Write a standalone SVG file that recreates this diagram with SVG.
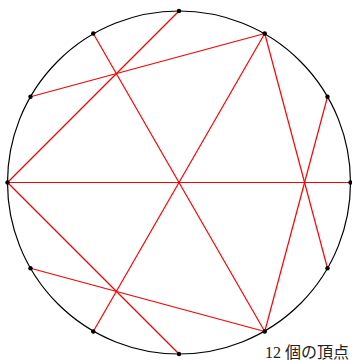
<svg xmlns="http://www.w3.org/2000/svg" width="352" height="360" viewBox="0 0 352 360">
<style>
.c{fill:none;stroke:#000;stroke-width:1.2}
.e{stroke:#ff0000;stroke-width:1.2;fill:none}
.v{fill:#000}
.t{font-family:"Liberation Serif","Noto Sans CJK JP",serif;font-size:16px;fill:#222}
</style>
<rect width="352" height="360" fill="#fff"/>
<g id="circle"><circle class="c" cx="179" cy="182.5" r="171.5"/></g>
<g id="connectors">
<line class="e" x1="7.5" y1="182.5" x2="350.5" y2="182.5"/>
<line class="e" x1="7.5" y1="182.5" x2="179" y2="11"/>
<line class="e" x1="30.5" y1="96.75" x2="264.75" y2="33.5"/>
<line class="e" x1="93.25" y1="33.5" x2="264.75" y2="331.5"/>
<line class="e" x1="264.75" y1="33.5" x2="93.25" y2="331.5"/>
<line class="e" x1="264.75" y1="33.5" x2="327.5" y2="268.25"/>
<line class="e" x1="327.5" y1="96.75" x2="264.75" y2="331.5"/>
<line class="e" x1="7.5" y1="182.5" x2="179" y2="354"/>
<line class="e" x1="30.5" y1="268.25" x2="264.75" y2="331.5"/>
</g>
<g id="v0"><circle class="v" cx="179" cy="11" r="2.2"/></g>
<g id="v1"><circle class="v" cx="264.75" cy="33.5" r="2.2"/></g>
<g id="v2"><circle class="v" cx="327.5" cy="96.75" r="2.2"/></g>
<g id="v3"><circle class="v" cx="350.5" cy="182.5" r="2.2"/></g>
<g id="v4"><circle class="v" cx="327.5" cy="268.25" r="2.2"/></g>
<g id="v5"><circle class="v" cx="264.75" cy="331.5" r="2.2"/></g>
<g id="v6"><circle class="v" cx="179" cy="354" r="2.2"/></g>
<g id="v7"><circle class="v" cx="93.25" cy="331.5" r="2.2"/></g>
<g id="v8"><circle class="v" cx="30.5" cy="268.25" r="2.2"/></g>
<g id="v9"><circle class="v" cx="7.5" cy="182.5" r="2.2"/></g>
<g id="v10"><circle class="v" cx="30.5" cy="96.75" r="2.2"/></g>
<g id="v11"><circle class="v" cx="93.25" cy="33.5" r="2.2"/></g>
<g id="label"><text class="t" x="349" y="357.5" text-anchor="end">12 個の頂点</text></g>
</svg>
